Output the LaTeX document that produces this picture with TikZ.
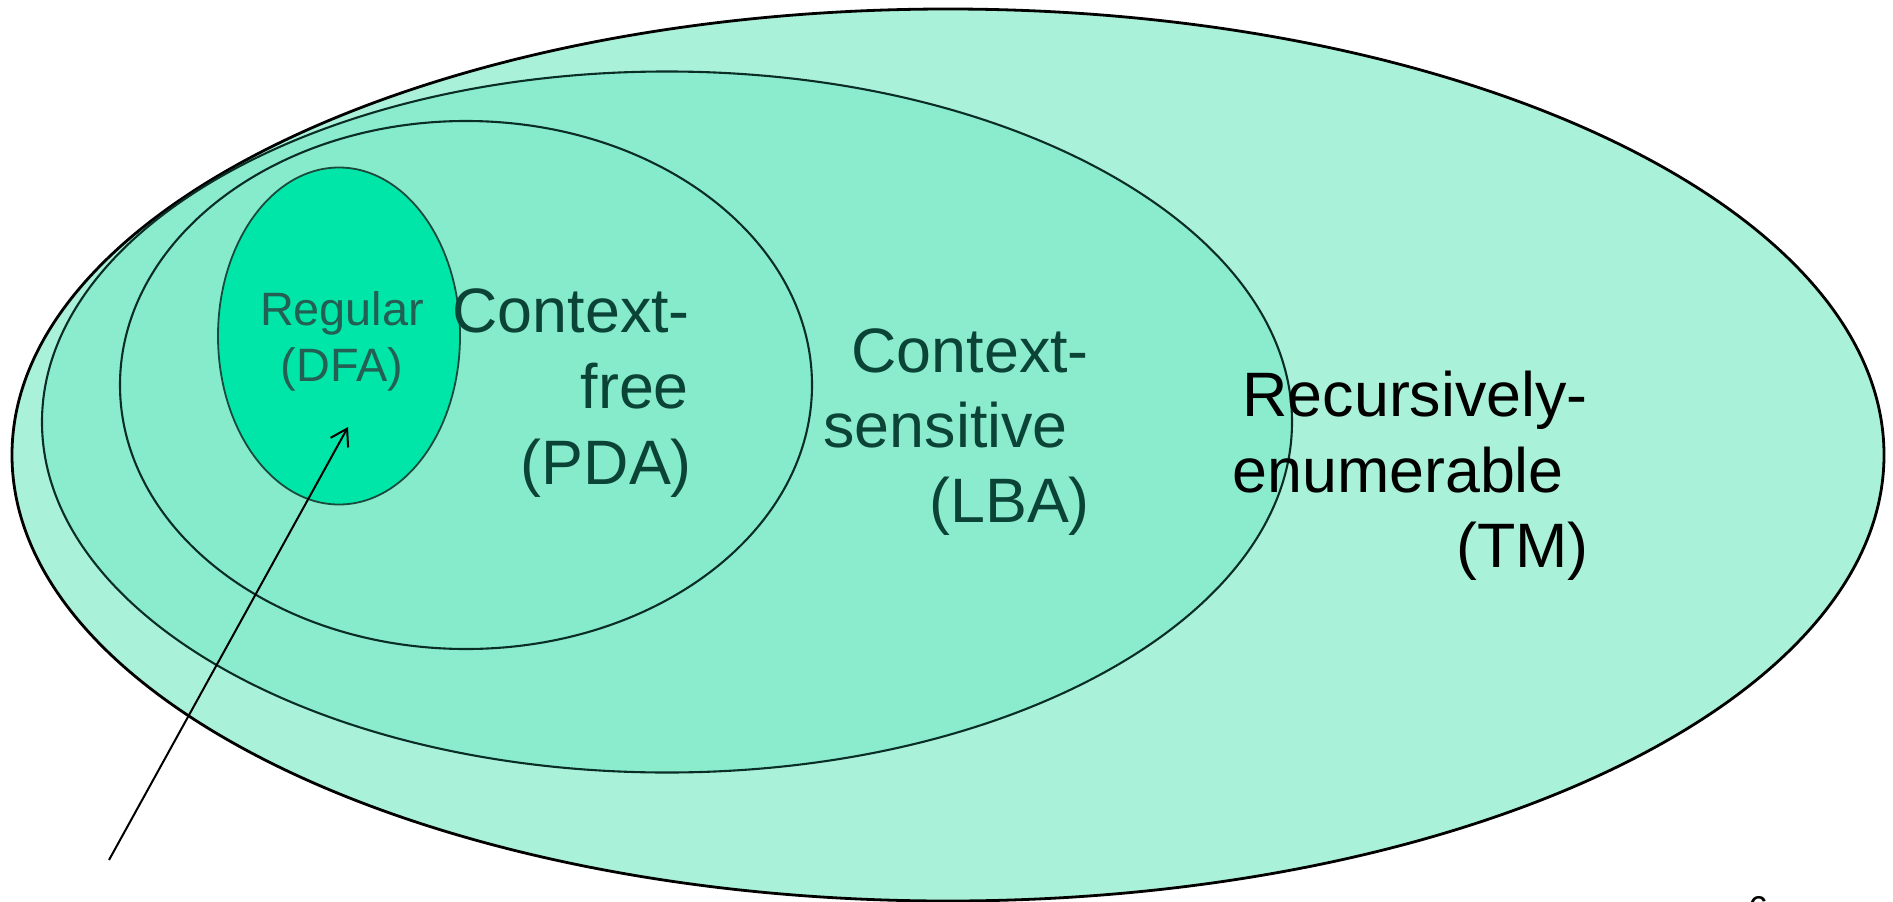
\documentclass[tikz,border=0pt]{standalone}
\usepackage{fontspec}
\setmainfont{Liberation Sans}
\usetikzlibrary{shapes.geometric,arrows.meta}
\definecolor{tmfill}{HTML}{AAF1DA}
\definecolor{csfill}{HTML}{8AECCD}
\definecolor{cffill}{HTML}{86EBCA}
\definecolor{regfill}{HTML}{00E6A8}
\definecolor{linecol}{HTML}{0A2E26}
\definecolor{reglinecol}{HTML}{1A4A3E}
\definecolor{darktext}{HTML}{0B4337}
\definecolor{regtext}{HTML}{235F52}
\begin{document}
\begin{tikzpicture}[x=1bp,y=-1bp,
  setshape/.style={draw, ellipse, inner sep=0pt, line width=2.1bp},
  biglbl/.style={font=\fontsize{63}{76}\selectfont, inner sep=0pt, anchor=base east},
  reglbl/.style={font=\fontsize{47}{56}\selectfont, inner sep=0pt, anchor=base, text=regtext},
]
\useasboundingbox (0,0) rectangle (1893,902);
\node[setshape, fill=tmfill, draw=black, line width=2.8bp, minimum width=1872bp, minimum height=892bp] (tm) at (948,455) {};
\node[setshape, fill=csfill, draw=linecol, minimum width=1250bp, minimum height=701bp] (cs) at (667,422) {};
\node[setshape, fill=cffill, draw=linecol, minimum width=692bp, minimum height=528bp] (cf) at (466,385) {};
\node[setshape, fill=regfill, draw=reglinecol, line width=1.8bp, minimum width=242bp, minimum height=337bp] (reg) at (339,336) {};
% Regular
\node[reglbl] (reg1) at (342,325) {Regular};
\node[reglbl] (reg2) at (342,381) {(DFA)};
% Context-free
\node[biglbl, text=darktext] (cf1) at (690,332) {Context-};
\node[biglbl, text=darktext] (cf2) at (689,408) {free};
\node[biglbl, text=darktext] (cf3) at (692,484) {(PDA)};
% Context-sensitive
\node[biglbl, text=darktext] (cs1) at (1089,372) {Context-};
\node[biglbl, text=darktext] (cs2) at (1068,447) {sensitive};
\node[biglbl, text=darktext] (cs3) at (1090,522) {(LBA)};
% Recursively-enumerable
\node[biglbl, text=black] (tm1) at (1588,416) {Recursively-};
\node[biglbl, text=black] (tm2) at (1564,492) {enumerable};
\node[biglbl, text=black] (tm3) at (1589,567) {(TM)};
% page number
\node[font=\fontsize{36}{40}\selectfont, inner sep=0pt, anchor=base] (pg) at (1758,921) {6};
% arrow
\coordinate (tail) at (109,860);
\coordinate (tip) at (348,427);
\draw[-{Straight Barb[length=16bp,width=20bp]}, line width=2bp] (tail) -- (tip);
\end{tikzpicture}
\end{document}
